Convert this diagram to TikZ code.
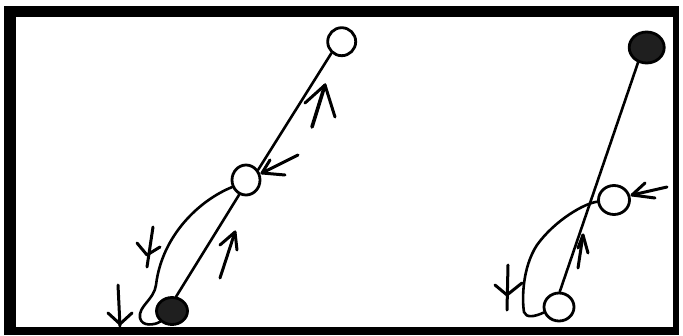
\documentclass[tikz,border=0pt]{standalone}
\usetikzlibrary{shapes.geometric}
\begin{document}
\begin{tikzpicture}[x=1pt,y=-1pt,
  ball/.style={ellipse,draw,line width=2.8pt,inner sep=0pt,fill=white},
  fullball/.style={ball,fill=black!88},
  wire/.style={line width=2.6pt,line cap=round,line join=round},
  mk/.style={line width=3pt,line cap=round,line join=round}]
\useasboundingbox (0,0) rectangle (683,335);
% frame
\fill[white] (0,0) rectangle (683,335);
\fill[black] (4,6) rectangle (679,335);
\fill[white] (16,17) rectangle (673,327);
% left diagram
\node[ball,minimum width=28pt,minimum height=28pt] (t1) at (341.7,41.7) {};
\node[ball,minimum width=28pt,minimum height=30pt] (m1) at (246,180) {};
\node[fullball,minimum width=31pt,minimum height=27pt] (b1) at (172,311) {};
\draw[wire] (t1.228) -- (m1.40);
\draw[wire] (m1.245) -- (b1.74);
\draw[wire] (m1.207) .. controls (200,200) and (162,235) .. (156,285)
  .. controls (154,300) and (138,306) .. (140,318)
  .. controls (142,327) and (155,325) .. (b1.222);
% left diagram arrow marks
\draw[mk,line width=3.6pt] (312,127) -- (325,85);
\draw[mk] (305,103) -- (325,85) -- (335,117);
\draw[mk] (298,155) -- (262,173);
\draw[mk] (270,160) -- (262,173) -- (285,175);
\draw[mk] (220,278) -- (235,232);
\draw[mk] (220,245) -- (235,232) -- (237,250);
\draw[mk] (153,227) -- (147,267);
\draw[mk] (137,243) -- (147,255) -- (160,247);
\draw[mk] (118,285) -- (120,326);
\draw[mk] (108,313) -- (120,324) -- (132,313);
% right diagram
\node[fullball,minimum width=35pt,minimum height=31pt] (t2) at (646.7,47.5) {};
\node[ball,minimum width=31pt,minimum height=29pt] (m2) at (614,200) {};
\node[ball,minimum width=30pt,minimum height=28pt] (b2) at (559,307) {};
\draw[wire] (t2.240) -- (b2.87);
\draw[wire] (m2.186) .. controls (585,203) and (555,220) .. (537,245)
  .. controls (522,268) and (522,300) .. (524,312)
  .. controls (526,318) and (534,317) .. (b2.200);
% right diagram arrow marks
\draw[mk] (667,187) -- (632,195);
\draw[mk] (645,183) -- (632,195) -- (655,198);
\draw[mk] (578,268) -- (583,235);
\draw[mk] (578,248) -- (583,235) -- (588,253);
\draw[mk] (508,265) -- (507,310);
\draw[mk] (495,285) -- (507,295) -- (522,283);
\end{tikzpicture}
\end{document}
